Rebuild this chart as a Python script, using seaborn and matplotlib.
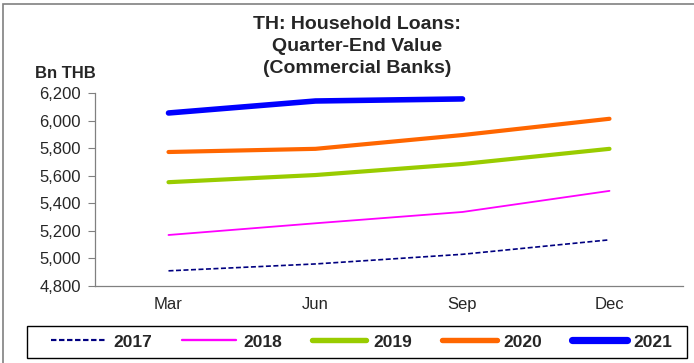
import matplotlib
matplotlib.use("Agg")
import matplotlib.pyplot as plt
from matplotlib.patches import Rectangle
import seaborn as sns
import pandas as pd

# quarter-end values, Bn THB
quarters = ["Mar", "Jun", "Sep", "Dec"]
y2017 = [4910, 4960, 5030, 5135]
y2018 = [5170, 5255, 5337, 5490]
y2019 = [5553, 5605, 5685, 5795]
y2020 = [5772, 5795, 5895, 6013]
y2021 = [6055, 6142, 6157]
yticks = [4800, 5000, 5200, 5400, 5600, 5800, 6000, 6200]

rows = []
for yr, vals in [("2017", y2017), ("2018", y2018), ("2019", y2019),
                 ("2020", y2020), ("2021", y2021)]:
    for q, v in zip(quarters, vals):
        rows.append({"quarter": q, "value": v, "year": yr})
df = pd.DataFrame(rows)

sns.set_style("white")
plt.rcParams["font.family"] = ["Liberation Sans", "DejaVu Sans"]

fig = plt.figure(figsize=(6.94, 3.63), dpi=100)
ax = fig.add_axes([95 / 694, 1 - 286 / 363, (683 - 95) / 694, (286 - 93) / 363])

palette = {"2017": "#000080", "2018": "#ff00ff", "2019": "#99cc00",
           "2020": "#ff6600", "2021": "#0000ff"}
widths = {"2017": 1.2, "2018": 1.3, "2019": 3.0, "2020": 3.0, "2021": 4.0}

sns.lineplot(data=df, x="quarter", y="value", hue="year", palette=palette,
             sort=False, ax=ax, legend=False)
for line, yr in zip(ax.lines, ["2017", "2018", "2019", "2020", "2021"]):
    line.set_linewidth(widths[yr])
    line.set_solid_capstyle("round")
    if yr == "2017":
        line.set_dashes([3, 1.5])

ax.set_xlim(-0.5, 3.5)
ax.set_ylim(4800, 6200)
ax.set_yticks(yticks)
ax.set_yticklabels([f"{v:,}" for v in yticks], fontsize=12)
ax.set_xticks(range(4))
ax.set_xticklabels(quarters, fontsize=12)
ax.set_xticks([-0.5, 0.5, 1.5, 2.5, 3.5], minor=True)
ax.tick_params(axis="x", which="major", length=0, pad=8)
ax.tick_params(axis="x", which="minor", length=5, width=0.8, color="#808080", direction="out")
ax.tick_params(axis="y", length=5, width=0.8, color="#808080", direction="out", left=True, pad=5)
ax.set_xlabel("")
ax.set_ylabel("")
sns.despine(ax=ax)
for s in ["left", "bottom"]:
    ax.spines[s].set_color("#808080")
    ax.spines[s].set_linewidth(0.9)

fig.text(357 / 694, 1 - 16 / 363, "TH: Household Loans:\nQuarter-End Value\n(Commercial Banks)",
         ha="center", va="top", fontsize=14, fontweight="bold", linespacing=1.4)
fig.text(35 / 694, 1 - 73 / 363, "Bn THB", ha="left", va="center",
         fontsize=12, fontweight="bold")

# outer frame
fig.patches.append(Rectangle((3 / 694, -0.1), 1, 1 - 4 / 363 + 0.1, transform=fig.transFigure,
                             fill=False, edgecolor="#808080", linewidth=1.2))

# legend box
fig.patches.append(Rectangle((27 / 694, 1 - 358 / 363), 660 / 694, 32 / 363,
                             transform=fig.transFigure, fill=False,
                             edgecolor="black", linewidth=1.0))

handles = [plt.Line2D([], [], color=palette[y], linewidth=widths[y] * 1.3,
                      linestyle=(0, (2.5, 1.2)) if y == "2017" else "-",
                      solid_capstyle="round") for y in palette]
leg = fig.legend(handles, list(palette), loc="center", ncol=5,
                 bbox_to_anchor=(362 / 694, 1 - 342 / 363), frameon=False,
                 handlelength=3.15, columnspacing=1.72, handletextpad=0.4,
                 borderpad=0.2, prop={"weight": "bold", "size": 12.5})

fig.savefig("out.png", dpi=100)
